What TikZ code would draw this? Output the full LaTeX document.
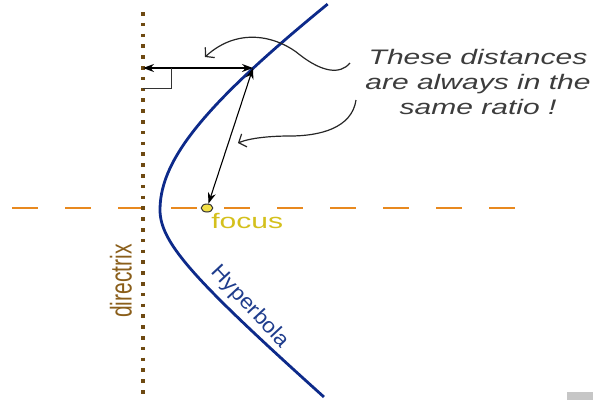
\documentclass[tikz,border=0pt]{standalone}
\usepackage{fontspec}
\setmainfont{Liberation Sans}
\usetikzlibrary{arrows.meta}
\definecolor{dirbrown}{HTML}{6E4A12}
\definecolor{dirtext}{HTML}{8A5E1A}
\definecolor{axisorange}{HTML}{E8891F}
\definecolor{hypblue}{HTML}{0D2A8A}
\definecolor{hyptext}{HTML}{1E3C8C}
\definecolor{focusyellow}{HTML}{D4C01C}
\definecolor{dotfill}{HTML}{F2E046}
\definecolor{notegray}{HTML}{3C3C3C}
\begin{document}
\begin{tikzpicture}[x=1pt,y=-1pt,
  directrixline/.style={dirbrown, line width=3.5pt, dash pattern=on 3.5pt off 7.3pt},
  axisline/.style={axisorange, line width=2.5pt, dash pattern=on 26pt off 27pt},
  curveline/.style={hypblue, line width=2.8pt},
  measure/.style={black, line width=1.1pt, {Stealth[length=11pt,width=8pt]}-{Stealth[length=11pt,width=8pt]}},
  pointer/.style={black!85, line width=1.2pt, -{Straight Barb[length=6pt,width=14pt]}},
  labeltext/.style={font=\fontsize{21}{25}\selectfont, inner sep=0pt, transform shape},
  notetext/.style={font=\fontsize{21}{25}\selectfont\itshape, text=notegray, align=center, inner sep=0pt, transform shape},
  focusdot/.style={circle, draw=black!80, line width=1pt, fill=dotfill, minimum size=8pt, inner sep=0pt, transform shape}
]
\useasboundingbox (0,0) rectangle (595,400);
\draw[axisline] (12,208) -- (515,208);
\draw[directrixline] (143,12) -- (143,398);
\draw[curveline] plot[domain=1.309:0, samples=40, variable=\t] ({160+170*(cosh(\t)-1)}, {210-120*sinh(\t)})
  -- plot[domain=0:1.992, samples=40, variable=\t] ({160+60*(cosh(\t)-1)}, {210+52*sinh(\t)});
\coordinate (D) at (143,68);
\coordinate (P) at (253,68);
\begin{scope}[shift={(207,208)}, xscale=1.45]
  \node[focusdot] (F) at (0,0) {};
\end{scope}
\draw[measure] (D) -- (P);
\draw[measure] (P) -- (F);
\coordinate (R1) at (143,88);
\coordinate (R2) at (171,88);
\coordinate (R3) at (171,68);
\draw[black!80, line width=0.9pt] (R1) -- (R2) -- (R3);
\begin{scope}[shift={(478,82)}, xscale=1.43]
  \node[notetext] (T) at (0,0) {These distances\\are always in the\\same ratio !};
\end{scope}
\coordinate (A1) at (350,63);
\coordinate (A1e) at (205,57);
\draw[pointer] (A1) .. controls (340,75) and (322,72) .. (300,55) .. controls (280,38) and (240,25) .. (A1e);
\coordinate (A2) at (356,100);
\coordinate (A2e) at (238,143);
\draw[pointer] (A2) .. controls (352,128) and (320,136) .. (290,136) .. controls (270,136) and (250,138) .. (A2e);
\begin{scope}[shift={(211,228)}, xscale=1.43]
  \node[labeltext, text=focusyellow, anchor=base west] (FL) at (0,0) {focus};
\end{scope}
\begin{scope}[shift={(121,281)}, xscale=1.43, rotate=90]
  \node[labeltext, text=dirtext] (DL) at (0,0) {directrix};
\end{scope}
\node[labeltext, text=hyptext, rotate=-47] (HL) at (250,307) {\scalebox{1.08}[1]{Hyperbola}};
\fill[gray!45] (567,392) rectangle (593,400);
\end{tikzpicture}
\end{document}
